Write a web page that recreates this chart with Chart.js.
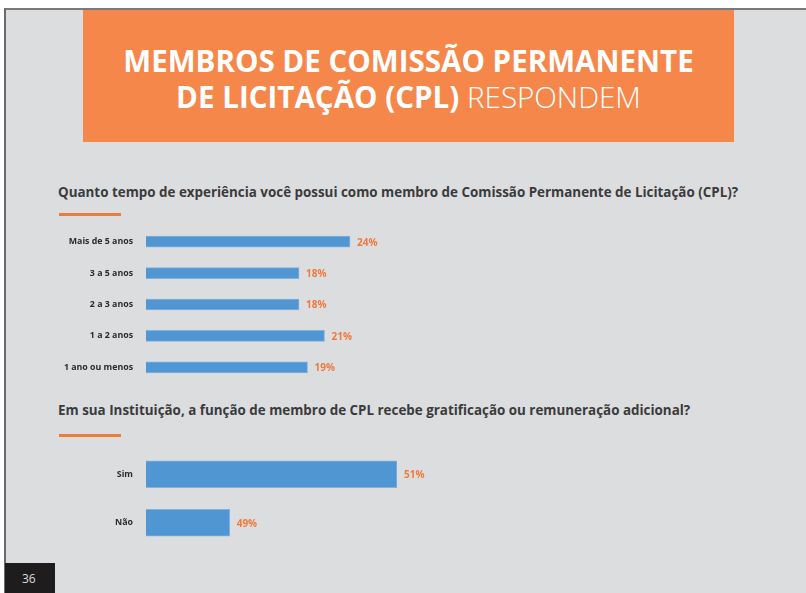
<!DOCTYPE html>
<html lang="pt-BR">
<head>
<meta charset="utf-8">
<script src="https://cdn.jsdelivr.net/npm/chart.js@4/dist/chart.umd.min.js"></script>
<style>
  html, body { margin: 0; padding: 0; }
  body {
    width: 806px; height: 593px; position: relative; overflow: hidden;
    background: #fff; font-family: "Open Sans", sans-serif;
  }
  .page {
    position: absolute; left: 4px; top: 8px; right: 0; bottom: 0;
    background: #dcdddf; border-top: 2px solid #7a7a7a; border-left: 2px solid #6a6a6a;
  }
  .banner {
    position: absolute; left: 83px; top: 10px; width: 651px; height: 132px;
    background: #f5874a;
  }
  .banner div {
    position: absolute; left: 0; width: 100%; text-align: center;
    color: #fff; font-size: 30px; line-height: 36px; font-weight: 700;
    transform: scaleX(0.985); transform-origin: 50% 50%;
  }
  .banner .light { font-weight: 300; }
  .question {
    position: absolute; left: 58px; font-size: 13.4px; font-weight: 700;
    color: #3b3b3b; white-space: nowrap;
  }
  .rule { position: absolute; left: 59px; width: 62px; height: 3px; background: #f07a38; }
  canvas { position: absolute; left: 0; }
  .pageno {
    position: absolute; left: 5px; top: 563px; width: 50px; height: 30px;
    background: #1e1c1d; color: #ddd; font-size: 12px; line-height: 32px;
    padding-left: 17px; box-sizing: border-box;
  }
</style>
</head>
<body>
<div class="page"></div>
<div class="banner">
  <div style="top: 33px;">MEMBROS DE COMISSÃO PERMANENTE</div>
  <div style="top: 69px;">DE LICITAÇÃO (CPL) <span class="light">RESPONDEM</span></div>
</div>

<div class="question" style="top: 183px;">Quanto tempo de experiência você possui como membro de Comissão Permanente de Licitação (CPL)?</div>
<div class="rule" style="top: 213px;"></div>
<canvas id="tempo" width="460" height="157" style="top: 226px;"></canvas>

<div class="question" style="top: 401px;">Em sua Instituição, a função de membro de CPL recebe gratificação ou remuneração adicional?</div>
<div class="rule" style="top: 434px;"></div>
<canvas id="gratificacao" width="460" height="97" style="top: 450px;"></canvas>

<div class="pageno">36</div>

<script>
const tempoLabels = ["Mais de 5 anos", "3 a 5 anos", "2 a 3 anos", "1 a 2 anos", "1 ano ou menos"];
const tempoValues = [24, 18, 18, 21, 19];

const gratLabels = ["Sim", "Não"];
const gratValues = [51, 49];

const BAR_BLUE = "#4f96d3";
const LABEL_ORANGE = "#ef7a3c";

// writes "NN%" just past the end of every bar
const valueLabels = {
  id: "valueLabels",
  afterDatasetsDraw(chart) {
    const ctx = chart.ctx;
    const data = chart.data.datasets[0].data;
    ctx.save();
    ctx.font = "700 10px 'Open Sans'";
    ctx.fillStyle = LABEL_ORANGE;
    ctx.textBaseline = "middle";
    chart.getDatasetMeta(0).data.forEach((bar, i) => {
      ctx.fillText(data[i] + "%", bar.x + 7, bar.y + 1);
    });
    ctx.restore();
  },
};

function makeBars(canvasId, labels, values, opts) {
  return new Chart(document.getElementById(canvasId), {
    type: "bar",
    data: {
      labels: labels,
      datasets: [{
        data: values,
        backgroundColor: BAR_BLUE,
        borderColor: "#7fb2df",
        borderWidth: 1,
        barThickness: opts.thickness,
      }],
    },
    plugins: [valueLabels],
    options: {
      indexAxis: "y",
      responsive: false,
      animation: false,
      layout: { padding: { left: 0, right: opts.padRight, top: 0, bottom: 0 } },
      plugins: { legend: { display: false }, tooltip: { enabled: false } },
      scales: {
        x: {
          display: false,
          min: opts.min,
          max: opts.max,
          beginAtZero: false,
        },
        y: {
          grid: { display: false },
          border: { display: false },
          // fixed label column; no extra space above/below the bands
          afterFit(scale) {
            scale.width = 146;
            scale.paddingTop = 0;
            scale.paddingBottom = 0;
          },
          ticks: {
            padding: 5,
            color: "#2b2b2b",
            font: { family: "Open Sans", size: 8.8, weight: "700" },
          },
        },
      },
    },
  });
}

makeBars("tempo", tempoLabels, tempoValues, { thickness: 11, min: 0, max: 30, padRight: 59 });
makeBars("gratificacao", gratLabels, gratValues, { thickness: 27, min: 48, max: 51, padRight: 63 });
</script>
</body>
</html>
